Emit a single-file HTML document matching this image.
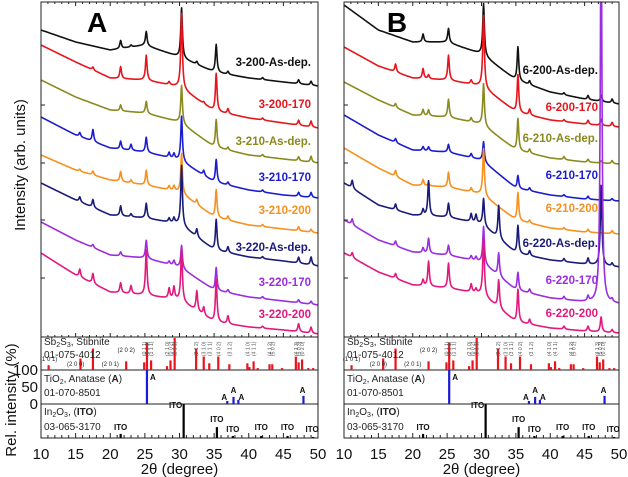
<!DOCTYPE html>
<html><head><meta charset="utf-8">
<style>
html,body{margin:0;padding:0;background:#fff;}
svg{display:block;font-family:"Liberation Sans",Arial,sans-serif;}
</style></head>
<body>
<svg id="fig" width="628" height="477" viewBox="0 0 628 477" xmlns="http://www.w3.org/2000/svg">
<g id="root"></g>
</svg>
<script>
// ---------------- data ----------------
const xTicks = [10,15,20,25,30,35,40,45,50];
const labelsA = ["3-200-As-dep.","3-200-170","3-210-As-dep.","3-210-170","3-210-200","3-220-As-dep.","3-220-170","3-220-200"];
const labelsB = ["6-200-As-dep.","6-200-170","6-210-As-dep.","6-210-170","6-210-200","6-220-As-dep.","6-220-170","6-220-200"];
const colors = ["#111111","#e8141c","#8a8a1e","#1c1ccf","#f7901e","#1a1a78","#9a2de0","#e2187e"];
const baseGrid = [10,15,20,25,30,35,40,45,50];
// baseline y (px) of every curve at baseGrid angles
const baseA = [
 [30,42,50,45,57,72,78,82,86],
 [45,62,78,80,87,111,118,123,128],
 [80,97,110,113,122,147,155,159,163],
 [117,135,148,152,160,182,190,195,198],
 [155,170,180,185,192,217,225,229,233],
 [183,200,215,218,224,250,257,261,266],
 [222,240,255,258,267,290,297,301,305],
 [253,275,292,295,300,322,327,330,334]
];
const baseB = [
 [5,30,42,42,54,80,92,99,104],
 [47,66,78,80,86,112,120,124,127],
 [82,100,115,117,124,150,158,162,164],
 [115,135,150,152,160,188,195,199,201],
 [148,168,185,187,194,220,228,232,234],
 [183,205,215,217,224,253,260,264,267],
 [220,240,252,255,262,290,298,302,304],
 [253,272,285,288,294,322,328,331,333]
];
const peaksA = [15.6,17.5,21.5,23,25.2,28.5,29.2,30.3,32.5,33.5,35.3,37,42,47.2,49];
const heightsA = [
 [0,0,8,2,14,0,0,50,3,0,28,3,2,4,4],
 [0,3,12,0,25,3,0,75,0,2,38,5,2,5,6],
 [0,0,6,0,12,0,0,38,0,0,28,3,2,4,6],
 [4,12,8,6,15,5,5,45,0,5,23,3,2,4,5],
 [2,4,10,3,15,4,5,40,5,0,28,4,2,4,3],
 [5,8,10,3,15,4,5,60,8,0,31,6,2,6,8],
 [0,3,4,0,18,3,5,23,0,0,23,3,2,3,3],
 [8,10,10,8,45,10,12,52,20,8,43,8,2,8,6]
];
const peaksB = [11.2,15.6,17.5,21.5,22.3,25.2,28.5,29.2,30.3,32.5,35.3,37,42,45.5,47.4,49];
const heightsB = [
 [0,0,0,8,0,14,0,0,52,0,34,4,2,4,6,4],
 [0,0,8,10,4,25,4,0,72,0,38,6,2,4,6,4],
 [0,0,4,6,6,18,4,0,42,0,32,4,3,3,2,3],
 [0,0,4,4,4,8,4,0,20,0,13,3,2,3,0,2],
 [0,0,6,6,3,15,4,0,47,0,28,3,2,3,0,3],
 [8,0,6,6,35,14,8,8,27,33,28,5,3,6,80,3],
 [6,0,5,5,15,10,4,4,37,23,18,4,3,5,400,3],
 [5,0,5,6,25,25,8,4,57,28,33,5,3,5,15,3]
];
const labelYA = [62,104,141,177,210,247,282,314];
const labelYB = [70,107,138,175,208,243,280,313];
// reference sticks (relative intensity 0-100)
const sbPos = [11.1,15.7,17.5,22.3,24.9,25.3,25.9,28.2,28.7,29.3,32.4,33.5,34.3,35.6,37.2,39.8,40.1,40.7,41.3,43.0,43.4,44.8,46.8,47.2,47.7,48.6,49.3];
const sbInt = [15,36,67,27,24,85,30,12,30,100,67,42,21,42,18,21,9,27,6,18,18,6,42,24,33,6,6];
const tiPos = [25.3,36.9,37.8,38.5,47.9];
const tiInt = [100,9,21,12,24];
const itoPos = [21.5,30.6,35.4,37.7,41.8,45.6,49.3];
const itoInt = [12,100,32,6,6,6,3];
const sbHkl = [[11.1,"(1 0 1)"],[15.0,"(2 0 0)"],[20.0,"(2 0 1)"],[22.3,"(2 0 2)"]];
const sbHklY = [9,4,4,18];
const sbHklV = [[24.9,"(0 1 1)"],[25.3,"(3 0 1)"],[25.9,"(1 1 1)"],[28.2,"(2 1 0)"],[28.7,"(0 0 2)"],[29.3,"(2 1 1)"],[32.4,"(2 1 2)"],[33.5,"(3 1 0)"],[34.3,"(3 1 1)"],[35.6,"(4 0 2)"],[37.2,"(3 1 2)"],[39.8,"(4 1 0)"],[40.7,"(4 1 1)"],[43.0,"(4 1 2)"],[43.4,"(5 0 2)"],[46.8,"(4 1 3)"],[47.2,"(5 0 3)"],[47.7,"(0 2 0)"]];
const itoLab = [[21.5,"ITO",0,8],[30.6,"ITO",-8,30],[35.4,"ITO",0,16],[37.7,"ITO",0,6],[41.8,"ITO",0,8],[45.6,"ITO",0,8],[49.3,"ITO",-1,6]];
const tiLab = [[25.3,"A",6,2],[36.9,"A",-3,22],[37.8,"A",0,15],[38.5,"A",3,22],[47.9,"A",-1,15]];

// ---------------- layout ----------------
const NS="http://www.w3.org/2000/svg";
const root=document.getElementById('root');
const panels=[{x0:41,x1:318,letter:"A",labels:labelsA,base:baseA,peaks:peaksA,heights:heightsA,ly:labelYA,lx:311},
              {x0:344,x1:619,letter:"B",labels:labelsB,base:baseB,peaks:peaksB,heights:heightsB,ly:labelYB,lx:598}];
const yTop=2,yMain=337,ySb=370,yTi=404,yIto=438;
function el(tag,attrs,parent){const e=document.createElementNS(NS,tag);for(const k in attrs)e.setAttribute(k,attrs[k]);(parent||root).appendChild(e);return e;}
function txt(s,attrs,parent){const e=el('text',attrs,parent);e.textContent=s;return e;}
function interp(arr,t){
  for(let j=0;j<baseGrid.length-1;j++){
    if(t<=baseGrid[j+1]){const f=(t-baseGrid[j])/(baseGrid[j+1]-baseGrid[j]);return arr[j]+(arr[j+1]-arr[j])*f;}
  }
  return arr[arr.length-1];
}

panels.forEach((p,pi)=>{
  const sx=v=>p.x0+(v-10)*(p.x1-p.x0)/40;
  const g=el('g',{});
  
  
  const cid='clip'+pi;
  const cp=el('clipPath',{id:cid},g); el('rect',{x:p.x0,y:yTop,width:p.x1-p.x0,height:yMain-yTop},cp);
  const cg=el('g',{'clip-path':'url(#'+cid+')'},g);
  p.labels.forEach((lab,i)=>{
    let d="";
    for(let n=0;n<=800;n++){
      const t=10+n*0.05;
      let y=interp(p.base[i],t);
      p.peaks.forEach((pk,j)=>{const h=p.heights[i][j];if(h){const w=0.14;y-=h/(1+((t-pk)/w)**2);}});
      d+=(n?"L":"M")+sx(t).toFixed(2)+","+y.toFixed(2);
    }
    const path=el('path',{d:d,fill:'none',stroke:colors[i],'stroke-width':1.6,'stroke-linejoin':'round'},cg);
    
    
    const t=txt(lab,{x:p.lx,y:p.ly[i]+4,'text-anchor':'end','font-size':11.5,'font-weight':'bold',fill:colors[i]},g);
    
    
  });
  const L=txt(p.letter,{x:sx(pi?17.7:18.1),y:32,'font-size':28,'font-weight':'bold',fill:'#000','text-anchor':'middle'},g);
  
  
  el('rect',{x:p.x0,y:yTop,width:p.x1-p.x0,height:yIto-yTop,fill:'none',stroke:'#222','stroke-width':1},g);
  [yMain,ySb,yTi].forEach(y=>el('line',{x1:p.x0,x2:p.x1,y1:y,y2:y,stroke:'#222','stroke-width':1},g));
  for(let t=10;t<=50;t+=1){
    const big=t%5===0, x=sx(t);
    el('line',{x1:x,x2:x,y1:yIto,y2:yIto-(big?5:3),stroke:'#222','stroke-width':1},g);
    el('line',{x1:x,x2:x,y1:yTop,y2:yTop+(big?4:2),stroke:'#222','stroke-width':1},g);
    el('line',{x1:x,x2:x,y1:yMain,y2:yMain-(big?4:2),stroke:'#222','stroke-width':1},g);
  }
  xTicks.forEach(t=>{
    const tl=txt(String(t),{x:sx(t),y:459,'text-anchor':'middle','font-size':15,fill:'#111'},g);
    
    
  });
  [105,163,220,278].forEach(y=>el('line',{x1:p.x0,x2:p.x0+4,y1:y,y2:y,stroke:'#222'},g));
  const xt=txt("2θ (degree)",{x:(p.x0+p.x1)/2,y:474,'text-anchor':'middle','font-size':15,fill:'#111'},g);
  
  
  const sbH=ySb-yMain-1;
  sbPos.forEach((v,i)=>{el('line',{x1:sx(v),x2:sx(v),y1:ySb,y2:ySb-sbInt[i]/100*sbH,stroke:'#e8141c','stroke-width':2.2},g);});
  tiPos.forEach((v,i)=>{el('line',{x1:sx(v),x2:sx(v),y1:yTi,y2:yTi-tiInt[i]/100*(yTi-ySb),stroke:'#1a1adc','stroke-width':2.2},g);});
  itoPos.forEach((v,i)=>{el('line',{x1:sx(v),x2:sx(v),y1:yIto,y2:yIto-itoInt[i]/100*(yIto-yTi),stroke:'#000','stroke-width':2.2},g);});
  sbHkl.forEach((h,i)=>txt(h[1],{x:sx(h[0]),y:ySb-sbHklY[i],'text-anchor':'middle','font-size':6,fill:'#222'},g));
  sbHklV.forEach(h=>{const x=sx(h[0])+2;txt(h[1],{x:x,y:ySb-14,'font-size':5,fill:'#555',transform:`rotate(-90 ${x} ${ySb-14})`},g);});
  itoLab.forEach(h=>txt(h[1],{x:sx(h[0])+h[2],y:yIto-h[3],'text-anchor':'middle','font-size':8,'font-weight':'bold',fill:'#111'},g));
  tiLab.forEach(h=>txt(h[1],{x:sx(h[0])+h[2],y:ySb+h[3]+8,'text-anchor':'middle','font-size':8,'font-weight':'bold',fill:'#111'},g));
  const tx=p.x0+3;
  const s1=txt("",{x:tx,y:ySb-25,'font-size':10,fill:'#222'},g);
  s1.innerHTML='Sb<tspan font-size="7" dy="2">2</tspan><tspan dy="-2">S</tspan><tspan font-size="7" dy="2">3</tspan><tspan dy="-2">, Stibnite</tspan>';
  txt("01-075-4012",{x:tx,y:ySb-12,'font-size':10,fill:'#222'},g);
  const s2=txt("",{x:tx,y:yTi-22,'font-size':10,fill:'#222'},g);
  s2.innerHTML='TiO<tspan font-size="7" dy="2">2</tspan><tspan dy="-2">, Anatase (</tspan><tspan font-weight="bold">A</tspan>)';
  txt("01-070-8501",{x:tx,y:yTi-8,'font-size':10,fill:'#222'},g);
  const s3=txt("",{x:tx,y:yIto-23,'font-size':10,fill:'#222'},g);
  s3.innerHTML='In<tspan font-size="7" dy="2">2</tspan><tspan dy="-2">O</tspan><tspan font-size="7" dy="2">3</tspan><tspan dy="-2">, (</tspan><tspan font-weight="bold">ITO</tspan>)';
  txt("03-065-3170",{x:tx,y:yIto-8,'font-size':10,fill:'#222'},g);
});
[[100,ySb],[50,(ySb+yTi)/2],[0,yTi]].forEach(v=>{
  const t=txt(String(v[0]),{x:38,y:v[1]+5,'text-anchor':'end','font-size':15,fill:'#111'});
  
  
});
const yt=txt("Intensity (arb. units)",{x:0,y:0,'text-anchor':'middle','font-size':15,fill:'#111',transform:'translate(25,165) rotate(-90)'});


const yt2=txt("Rel. intensity (%)",{x:0,y:0,'text-anchor':'middle','font-size':15,fill:'#111',transform:'translate(16,400) rotate(-90)'});


</script>
</body></html>
